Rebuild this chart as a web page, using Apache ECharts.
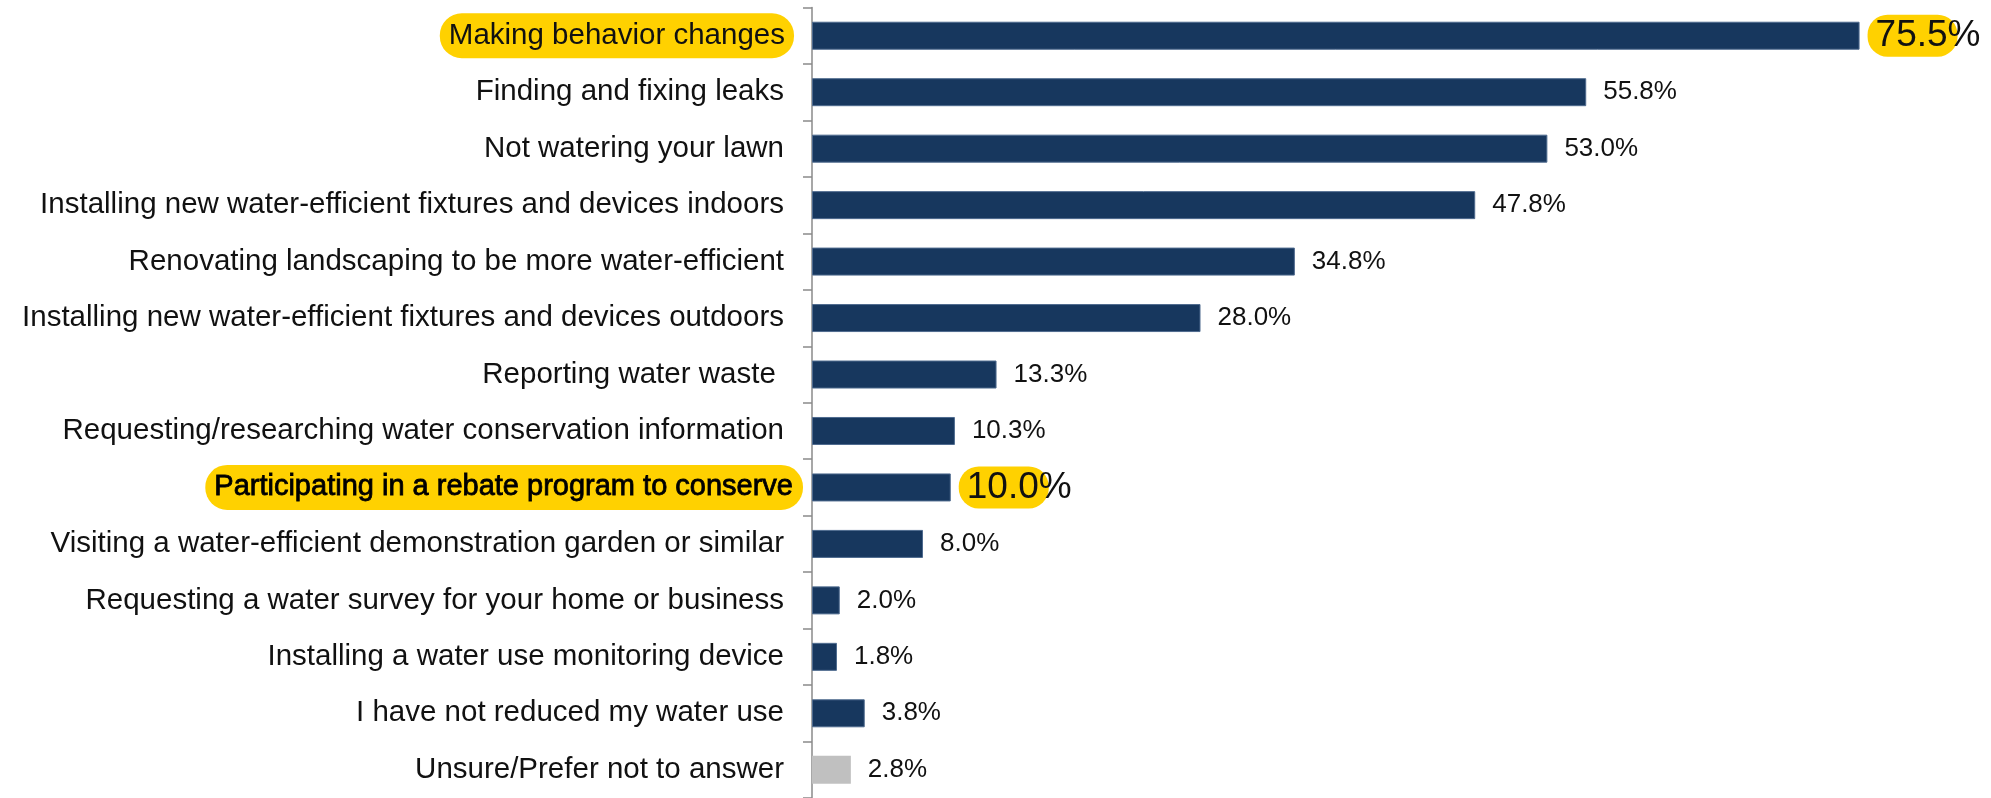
<!DOCTYPE html>
<html>
<head>
<meta charset="utf-8">
<title>Ways of reducing water use</title>
<script src="https://cdn.jsdelivr.net/npm/echarts@6/dist/echarts.min.js"></script>
<style>
  html, body { margin: 0; padding: 0; background: #ffffff; }
  #chart { width: 1991px; height: 798px; }
</style>
</head>
<body>
<div id="chart"></div>
<script>
// Survey responses: actions taken to reduce water use (percent of respondents)
const categories = [
  'Making behavior changes',
  'Finding and fixing leaks',
  'Not watering your lawn',
  'Installing new water-efficient fixtures and devices indoors',
  'Renovating landscaping to be more water-efficient',
  'Installing new water-efficient fixtures and devices outdoors',
  'Reporting water waste ',
  'Requesting/researching water conservation information',
  'Participating in a rebate program to conserve',
  'Visiting a water-efficient demonstration garden or similar',
  'Requesting a water survey for your home or business',
  'Installing a water use monitoring device',
  'I have not reduced my water use',
  'Unsure/Prefer not to answer'
];
const values = [75.5, 55.8, 53.0, 47.8, 34.8, 28.0, 13.3, 10.3, 10.0, 8.0, 2.0, 1.8, 3.8, 2.8];

// Rows called out with a yellow marker, and the rows drawn in grey
const highlighted = [0, 8];
const neutralRows = [13];

const FONT = "'Liberation Sans', Arial, Helvetica, sans-serif";
const NAVY = '#17375e';
const GREY = '#c0c0c0';
const YELLOW = '#ffd100';
const CAT_SIZE = 29.5;

const barData = values.map((v, i) => {
  const hl = highlighted.indexOf(i) >= 0;
  return {
    value: v,
    itemStyle: neutralRows.indexOf(i) >= 0
      ? { color: GREY, borderColor: GREY, borderWidth: 0 }
      : { color: NAVY, borderColor: '#4e6a8e', borderWidth: 1 },
    label: { distance: hl ? 8 : 17 }
  };
});

const chart = echarts.init(document.getElementById('chart'), null, { renderer: 'canvas' });

chart.setOption({
  animation: false,
  backgroundColor: '#ffffff',
  grid: { left: 812, top: 7.5, width: 1110, height: 793 },
  xAxis: {
    type: 'value',
    min: 0,
    max: 80,
    show: false,
    splitLine: { show: false }
  },
  yAxis: {
    type: 'category',
    inverse: true,
    data: categories,
    boundaryGap: true,
    axisLine: { show: true, lineStyle: { color: '#8a8a8a', width: 1.5 } },
    axisTick: { show: true, length: 9, lineStyle: { color: '#8a8a8a', width: 1.5 } },
    axisLabel: {
      margin: 9,
      interval: 0,
      formatter: function (value, index) {
        if (index === 0) return '{hy|' + value + '}{gap| }';
        if (index === 8) return '{hb|' + value + '}';
        return '{n|' + value + '}';
      },
      rich: {
        n: { fontFamily: FONT, fontSize: CAT_SIZE, color: '#111111', padding: [0, 19, 0, 0] },
        hy: {
          fontFamily: FONT, fontSize: CAT_SIZE, color: '#111111',
          backgroundColor: YELLOW, borderRadius: 22, padding: [8, 9, 7, 9]
        },
        gap: { fontFamily: FONT, fontSize: CAT_SIZE, width: 9 },
        hb: {
          fontFamily: FONT, fontSize: 29, color: '#000000',
          textBorderColor: '#000000', textBorderWidth: 0.8,
          backgroundColor: YELLOW, borderRadius: 22, padding: [8, 10, 8, 9]
        }
      }
    }
  },
  series: [{
    type: 'bar',
    data: barData,
    barWidth: 28,
    label: {
      show: true,
      position: 'right',
      formatter: function (p) {
        const txt = p.value.toFixed(1) + '%';
        if (highlighted.indexOf(p.dataIndex) >= 0) return '{hv|' + txt + '}{tail| }';
        return '{v|' + txt + '}';
      },
      rich: {
        v: { fontFamily: FONT, fontSize: 26, color: '#111111' },
        // marker box is narrower than the text, so the "%" runs past its edge
        hv: {
          fontFamily: FONT, fontSize: 37, color: '#111111', width: 82,
          backgroundColor: YELLOW, borderRadius: 20, padding: [3, 0, 2, 8]
        },
        tail: { fontFamily: FONT, fontSize: 37, width: 24 }
      }
    }
  }]
});
</script>
</body>
</html>
